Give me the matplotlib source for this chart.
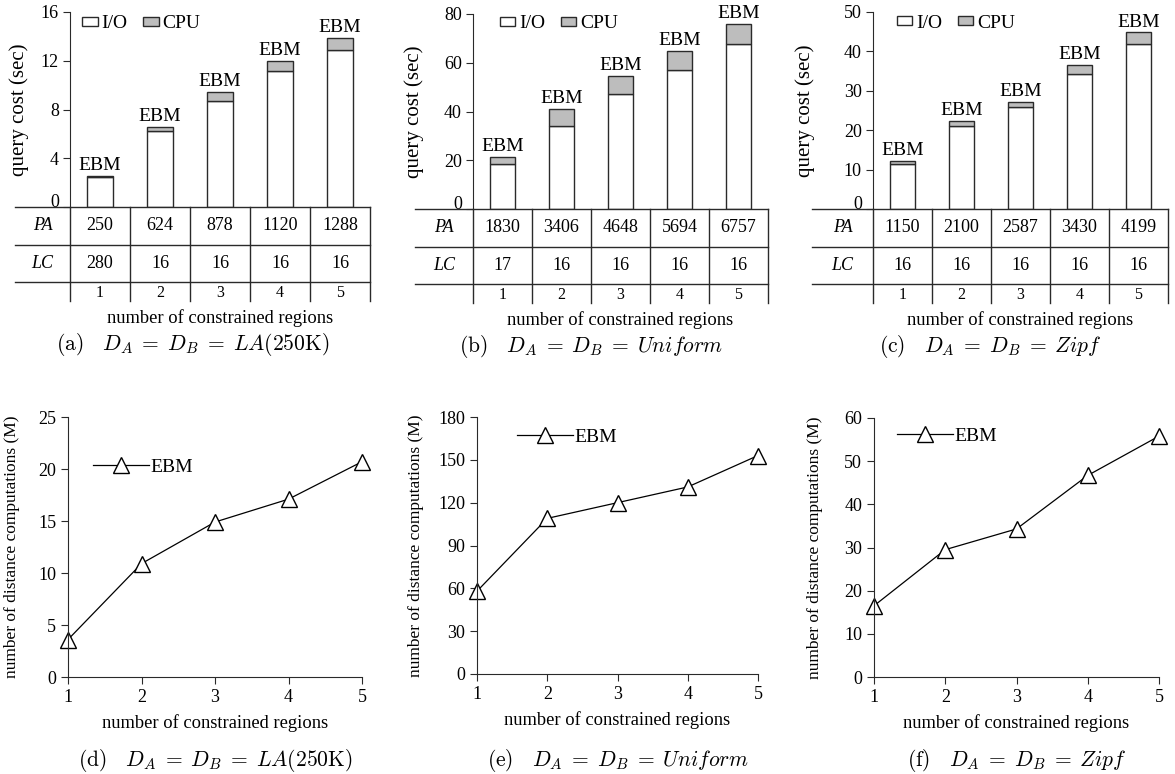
import matplotlib
matplotlib.use("Agg")
import matplotlib.pyplot as plt
from matplotlib.patches import Patch

plt.rcParams["font.family"] = ["Liberation Serif", "DejaVu Serif"]
plt.rcParams["mathtext.fontset"] = "cm"

W, H = 1175, 774

# ----- data -----
REGIONS = [1, 2, 3, 4, 5]

IO_A = [2.45, 6.2, 8.7, 11.2, 12.9]
CPU_A = [0.08, 0.4, 0.7, 0.8, 1.0]
PA_A = [250, 624, 878, 1120, 1288]
LC_A = [280, 16, 16, 16, 16]

IO_B = [18.5, 34.0, 47.0, 57.0, 67.5]
CPU_B = [3.0, 7.0, 7.5, 8.0, 8.5]
PA_B = [1830, 3406, 4648, 5694, 6757]
LC_B = [17, 16, 16, 16, 16]

IO_C = [11.5, 21.0, 25.8, 34.3, 42.0]
CPU_C = [0.7, 1.3, 1.4, 2.2, 2.8]
PA_C = [1150, 2100, 2587, 3430, 4199]
LC_C = [16, 16, 16, 16, 16]

DIST_D = [3.6, 10.9, 14.9, 17.1, 20.7]
DIST_E = [58, 109, 120, 131, 153]
DIST_F = [16.5, 29.5, 34.3, 46.7, 55.8]

CAPTIONS = [
    r"$\mathrm{(a)}\ \ \ D_A\;=\;D_B\;=\;LA(250\mathrm{K})$",
    r"$\mathrm{(b)}\ \ \ D_A\;=\;D_B\;=\;Uniform$",
    r"$\mathrm{(c)}\ \ \ D_A\;=\;D_B\;=\;Zipf$",
    r"$\mathrm{(d)}\ \ \ D_A\;=\;D_B\;=\;LA(250\mathrm{K})$",
    r"$\mathrm{(e)}\ \ \ D_A\;=\;D_B\;=\;Uniform$",
    r"$\mathrm{(f)}\ \ \ D_A\;=\;D_B\;=\;Zipf$",
]

CPU_COLOR = "#bdbdbd"
EDGE = "#2a2a2a"
TICK_FS = 13
XLAB_FS = 13.3
CAP_FS = 15.5


def px_box(l, t, r, b):
    return [l / W, 1 - b / H, (r - l) / W, (b - t) / H]


def bar_panel(fig, geo, io, cpu, pa, lc, ymax, step, leg_xy, ylab_x, caption):
    axis_x, right, top, zero, tab_left, tab_h = geo
    colw = (right - axis_x) / 5.0

    ax = fig.add_axes(px_box(axis_x, top, right, zero))
    ax.bar(REGIONS, io, width=0.42, color="white", edgecolor=EDGE, linewidth=1.0)
    ax.bar(REGIONS, cpu, width=0.42, bottom=io, color=CPU_COLOR,
           edgecolor=EDGE, linewidth=1.0)
    for x, a, b in zip(REGIONS, io, cpu):
        ax.text(x, a + b + ymax * 0.01, "EBM", ha="center", va="bottom",
                fontsize=14)
    ax.set_xlim(0.5, 5.5)
    ax.set_ylim(0, ymax)
    ax.set_yticks(range(0, ymax + 1, step))
    ax.set_xticks([])
    for s in ["top", "right", "bottom"]:
        ax.spines[s].set_visible(False)
    ax.spines["left"].set_color(EDGE)
    ax.tick_params(axis="y", direction="out", length=5, labelsize=TICK_FS,
                   color=EDGE, pad=3)
    # the "0" sits just above the table line
    ax.get_yticklabels()[0].set_verticalalignment("baseline")
    ax.set_ylabel("query cost (sec)", fontsize=15)
    ax.yaxis.set_label_coords(ylab_x, 0.5)
    handles = [Patch(facecolor="white", edgecolor=EDGE, label="I/O"),
               Patch(facecolor=CPU_COLOR, edgecolor=EDGE, label="CPU")]
    ax.legend(handles=handles, loc="center left", bbox_to_anchor=leg_xy,
              ncol=2, frameon=False, fontsize=14, handlelength=0.8,
              handleheight=0.36, handletextpad=0.2, columnspacing=0.8,
              borderpad=0, borderaxespad=0)

    # table under the bars
    at = fig.add_axes(px_box(tab_left, zero, right, zero + tab_h))
    left_data = 0.5 - (axis_x - tab_left) / colw
    at.set_xlim(left_data, 5.5)
    at.set_ylim(tab_h, 0)
    at.axis("off")
    for yy in [0, 38, 75]:
        at.plot([left_data, 5.5], [yy, yy], color=EDGE, lw=1.0, clip_on=False)
    for xx in [0.5, 1.5, 2.5, 3.5, 4.5, 5.5]:
        at.plot([xx, xx], [0, tab_h], color=EDGE, lw=1.0, clip_on=False)
    lab_x = (left_data + 0.5) / 2
    at.text(lab_x, 19, "PA", style="italic", ha="center", va="center", fontsize=TICK_FS)
    at.text(lab_x, 56.5, "LC", style="italic", ha="center", va="center", fontsize=TICK_FS)
    for x, p, c in zip(REGIONS, pa, lc):
        at.text(x, 19, str(p), ha="center", va="center", fontsize=TICK_FS)
        at.text(x, 56.5, str(c), ha="center", va="center", fontsize=TICK_FS)
        at.text(x, 86, str(x), ha="center", va="center", fontsize=11.5)
    at.text(3, 111, "number of constrained regions", ha="center", va="center",
            fontsize=XLAB_FS, clip_on=False)
    at.text((left_data + 5.5) / 2, 138, caption, ha="center", va="center",
            fontsize=CAP_FS, clip_on=False)


def line_panel(fig, geo, vals, ymax, step, leg_xy, ylab_x, caption):
    l, t, r, b = geo
    ax = fig.add_axes(px_box(l, t, r, b))
    ax.plot(REGIONS, vals, color="black", lw=0.9, marker="^", markersize=12,
            markerfacecolor="white", markeredgecolor="black",
            markeredgewidth=1.0, clip_on=False, label="EBM")
    ax.set_xlim(1, 5)
    ax.set_ylim(0, ymax)
    ax.set_xticks(REGIONS)
    ax.set_yticks(range(0, ymax + 1, step))
    for s in ["top", "right"]:
        ax.spines[s].set_visible(False)
    ax.spines["left"].set_color(EDGE)
    ax.spines["bottom"].set_color(EDGE)
    ax.tick_params(direction="out", length=5, labelsize=TICK_FS, color=EDGE)
    ax.set_xlabel("number of constrained regions", fontsize=XLAB_FS, labelpad=6)
    ax.set_ylabel("number of distance computations (M)", fontsize=12.5)
    ax.yaxis.set_label_coords(ylab_x, 0.5)
    ax.legend(loc="center left", bbox_to_anchor=leg_xy, frameon=False,
              fontsize=14, handlelength=2.9, handletextpad=0.05,
              borderpad=0, borderaxespad=0)
    ax.text(0.5, (b - 760) / (b - t), caption, transform=ax.transAxes,
            ha="center", va="center", fontsize=CAP_FS)


fig = plt.figure(figsize=(W / 100, H / 100), dpi=100)

bar_panel(fig, (70, 370, 12, 207, 15, 94), IO_A, CPU_A, PA_A, LC_A, 16, 4,
          (0.04, 0.94), -0.137, CAPTIONS[0])
bar_panel(fig, (473, 768, 14, 209, 415, 94), IO_B, CPU_B, PA_B, LC_B, 80, 20,
          (0.09, 0.95), -0.166, CAPTIONS[1])
bar_panel(fig, (873, 1168, 12, 209, 812, 94), IO_C, CPU_C, PA_C, LC_C, 50, 10,
          (0.08, 0.944), -0.197, CAPTIONS[2])

line_panel(fig, (68, 417, 362, 677), DIST_D, 25, 5, (0.085, 0.808), -0.163, CAPTIONS[3])
line_panel(fig, (477, 417, 758, 674), DIST_E, 180, 30, (0.142, 0.922), -0.189, CAPTIONS[4])
line_panel(fig, (874, 418, 1159, 677), DIST_F, 60, 10, (0.081, 0.93), -0.179, CAPTIONS[5])

fig.savefig("out.png", dpi=100)
